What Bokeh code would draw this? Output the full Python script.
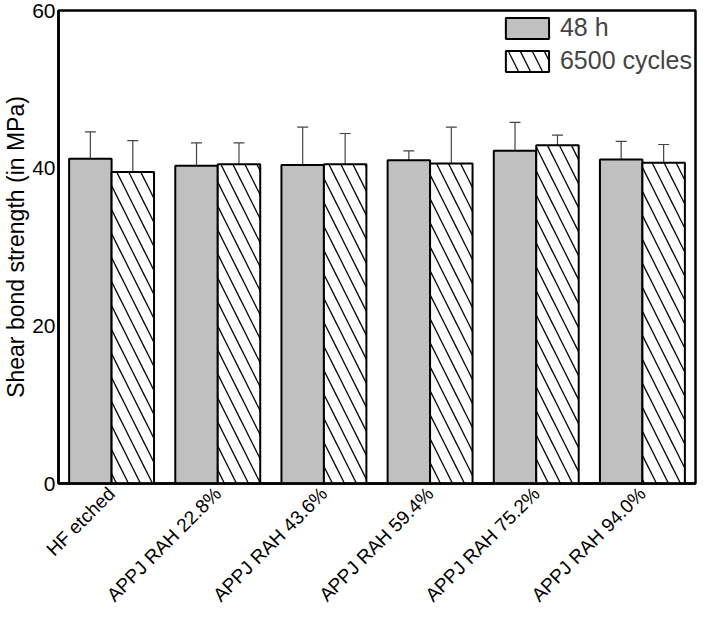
import math
from bokeh.plotting import figure
from bokeh.models import (ColumnDataSource, FactorRange, Range1d, FixedTicker,
                          Whisker, TeeHead, Legend, LegendItem)
from bokeh.transform import dodge
from bokeh.embed import file_html
from bokeh.resources import INLINE

categories = ["HF etched", "APPJ RAH 22.8%", "APPJ RAH 43.6%",
              "APPJ RAH 59.4%", "APPJ RAH 75.2%", "APPJ RAH 94.0%"]
series_names = ["48 h", "6500 cycles"]
h48_mean = [41.2, 40.3, 40.4, 41.0, 42.2, 41.1]
h48_sd = [3.4, 2.9, 4.8, 1.2, 3.6, 2.3]
cyc_mean = [39.5, 40.5, 40.5, 40.6, 42.9, 40.7]
cyc_sd = [4.0, 2.7, 3.9, 4.6, 1.3, 2.3]
y_ticks = [0, 20, 40, 60]

FONT = "Liberation Sans"

src = ColumnDataSource(dict(
    cat=categories,
    h48=h48_mean,
    h48_lo=[m - s for m, s in zip(h48_mean, h48_sd)],
    h48_hi=[m + s for m, s in zip(h48_mean, h48_sd)],
    cyc=cyc_mean,
    cyc_lo=[m - s for m, s in zip(cyc_mean, cyc_sd)],
    cyc_hi=[m + s for m, s in zip(cyc_mean, cyc_sd)],
))

p = figure(width=697, height=615, output_backend="svg", toolbar_location=None,
           x_range=FactorRange(*categories, range_padding=0),
           y_range=Range1d(0, 60),
           min_border_top=10, min_border_right=2, min_border_left=0,
           min_border_bottom=0)

r1 = p.vbar(x=dodge("cat", -0.2, range=p.x_range), top="h48", width=0.4, bottom=0,
            source=src, fill_color="#c0c0c0", line_color="black", line_width=2)
r2 = p.vbar(x=dodge("cat", 0.2, range=p.x_range), top="cyc", width=0.4, bottom=0,
            source=src, fill_color="white", line_color="black", line_width=2,
            hatch_pattern="\\", hatch_color="black", hatch_scale=24, hatch_weight=1.3)

for off, lo, hi in [(-0.2, "h48_lo", "h48_hi"), (0.2, "cyc_lo", "cyc_hi")]:
    w = Whisker(source=src, base=dodge("cat", off, range=p.x_range), lower=lo, upper=hi,
                line_color="#444444", line_width=1.2,
                upper_head=TeeHead(size=11, line_color="#444444", line_width=1.2),
                lower_head=TeeHead(size=11, line_color="#444444", line_width=1.2))
    p.add_layout(w)

legend = Legend(items=[LegendItem(label=series_names[0], renderers=[r1]),
                       LegendItem(label=series_names[1], renderers=[r2])],
                location="top_right", border_line_color=None,
                background_fill_alpha=0, glyph_width=54, glyph_height=26,
                label_text_font=FONT, label_text_font_size="25px",
                spacing=4, padding=0, margin=3, label_standoff=6)
p.add_layout(legend)

p.xgrid.grid_line_color = None
p.ygrid.grid_line_color = None
p.outline_line_color = "black"
p.outline_line_width = 2.5

p.yaxis.ticker = FixedTicker(ticks=y_ticks)
p.yaxis.axis_label = "Shear bond strength (in MPa)"
p.yaxis.axis_label_text_font = FONT
p.yaxis.axis_label_text_font_size = "23px"
p.yaxis.axis_label_text_font_style = "normal"
p.yaxis.axis_label_text_color = "black"
p.yaxis.axis_label_standoff = 0
for ax in (p.xaxis, p.yaxis):
    ax.axis_line_color = "black"
    ax.axis_line_width = 2.5
    ax.major_tick_out = 0
    ax.major_tick_in = 0
    ax.minor_tick_out = 0
    ax.minor_tick_in = 0
    ax.major_label_text_font = FONT
    ax.major_label_text_color = "black"
p.yaxis.major_label_text_font_size = "21px"
p.yaxis.major_label_standoff = 3
p.xaxis.major_label_text_font_size = "19px"
p.xaxis.major_label_orientation = math.pi / 4
p.xaxis.major_label_standoff = 7

open("out.html", "w").write(file_html(p, INLINE))
